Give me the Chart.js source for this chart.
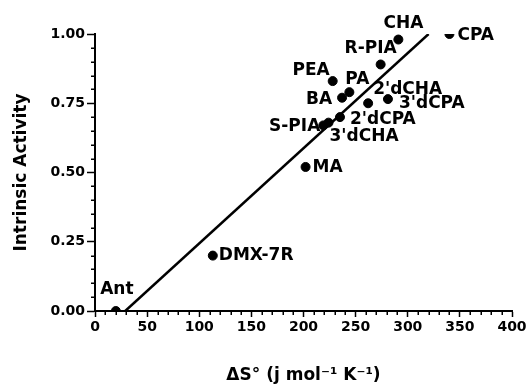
<!DOCTYPE html>
<html>
<head>
<meta charset="utf-8">
<script src="https://cdn.jsdelivr.net/npm/chart.js@4.4.1/dist/chart.umd.min.js"></script>
<style>
  html, body { margin: 0; padding: 0; background: #ffffff; }
  #c { display: block; }
</style>
</head>
<body>
<canvas id="c" width="530" height="391"></canvas>
<script>
// ---- data ----
const compoundNames = ["Ant", "DMX-7R", "MA", "S-PIA", "3'dCHA", "2'dCPA", "BA", "PA", "PEA", "2'dCHA", "3'dCPA", "R-PIA", "CHA", "CPA"];
const entropyValues = [20, 113, 202, 219, 224, 235, 237, 244, 228, 262, 281, 274, 291, 340];
const intrinsicActivity = [0.00, 0.20, 0.52, 0.67, 0.68, 0.70, 0.77, 0.79, 0.83, 0.75, 0.765, 0.89, 0.98, 1.00];
const fitLineX = [29, 320];
const fitLineY = [0.00, 1.00];
const xTickLabels = ["0", "50", "100", "150", "200", "250", "300", "350", "400"];
const yTickLabels = ["0.00", "0.25", "0.50", "0.75", "1.00"];

// ---- label placement (pixel offsets from each point, style only) ----
const labelPlacement = [
  { dx: 1, dy: -21, align: 'center' },   // Ant
  { dx: 6, dy: 0, align: 'left' },       // DMX-7R
  { dx: 7, dy: 1, align: 'left' },       // MA
  { dx: -3, dy: 1, align: 'right' },     // S-PIA
  { dx: 1, dy: 14, align: 'left' },      // 3'dCHA
  { dx: 10, dy: 2, align: 'left' },      // 2'dCPA
  { dx: -10, dy: 2, align: 'right' },    // BA
  { dx: -4, dy: -13, align: 'left' },    // PA
  { dx: -3, dy: -11, align: 'right' },   // PEA
  { dx: 5, dy: -14, align: 'left' },     // 2'dCHA
  { dx: 11, dy: 4, align: 'left' },      // 3'dCPA
  { dx: -10, dy: -16, align: 'center' }, // R-PIA
  { dx: 5, dy: -16, align: 'center' },   // CHA
  { dx: 8, dy: 2, align: 'left' }        // CPA
];

const FONT = "'DejaVu Sans', 'Liberation Sans', Arial, sans-serif";

const scatterPoints = entropyValues.map((x, i) => ({ x: x, y: intrinsicActivity[i] }));
const linePoints = fitLineX.map((x, i) => ({ x: x, y: fitLineY[i] }));

const minorTicksPlugin = {
  id: 'minorTicks',
  afterDraw(chart) {
    const ctx = chart.ctx, xs = chart.scales.x, ys = chart.scales.y;
    ctx.save();
    ctx.strokeStyle = '#000';
    ctx.lineWidth = 1.5;
    for (let v = 10; v < 400; v += 10) {
      if (v % 50 === 0) continue;
      const p = Math.round(xs.getPixelForValue(v)) + 0.25;
      ctx.beginPath(); ctx.moveTo(p, ys.bottom); ctx.lineTo(p, ys.bottom + 4); ctx.stroke();
    }
    for (let k = 1; k < 20; k++) {
      if (k % 5 === 0) continue;
      const p = Math.round(ys.getPixelForValue(k * 0.05)) + 0.25;
      ctx.beginPath(); ctx.moveTo(xs.left, p); ctx.lineTo(xs.left - 4, p); ctx.stroke();
    }
    ctx.restore();
  }
};

const pointLabelsPlugin = {
  id: 'pointLabels',
  afterDatasetsDraw(chart) {
    const ctx = chart.ctx;
    const meta = chart.getDatasetMeta(1);
    ctx.save();
    ctx.fillStyle = '#000';
    ctx.font = "bold 17px " + FONT;
    ctx.textBaseline = 'middle';
    meta.data.forEach((el, i) => {
      const pl = labelPlacement[i];
      ctx.textAlign = pl.align;
      ctx.fillText(compoundNames[i], el.x + pl.dx, el.y + pl.dy);
    });
    ctx.restore();
  }
};

new Chart(document.getElementById('c'), {
  type: 'scatter',
  data: {
    datasets: [
      {
        type: 'line',
        label: 'fit',
        data: linePoints,
        borderColor: '#000',
        borderWidth: 2.5,
        pointRadius: 0,
        fill: false,
        tension: 0
      },
      {
        label: 'compounds',
        data: scatterPoints,
        backgroundColor: '#000',
        borderColor: '#000',
        pointRadius: 4.5,
        pointHoverRadius: 4.5
      }
    ]
  },
  options: {
    responsive: false,
    animation: false,
    events: [],
    layout: { padding: { top: 34, right: 18, left: 0, bottom: 0 } },
    plugins: {
      legend: { display: false },
      tooltip: { enabled: false }
    },
    scales: {
      x: {
        type: 'linear',
        min: 0, max: 400,
        afterFit: (s) => { s.height = 80; },
        border: { display: true, color: '#000', width: 2 },
        grid: { display: true, drawOnChartArea: false, drawTicks: true, tickLength: 6, tickWidth: 1.5, tickColor: '#000', color: '#000' },
        ticks: {
          stepSize: 50,
          padding: 2,
          color: '#000',
          maxRotation: 0,
          font: { family: FONT, size: 14, weight: 'bold' },
          callback: (v) => { const i = xTickLabels.indexOf(String(v)); return i >= 0 ? xTickLabels[i] : ''; }
        },
        title: {
          display: true,
          text: 'ΔS° (j mol⁻¹ K⁻¹)',
          color: '#000',
          font: { family: FONT, size: 17, weight: 'bold' },
          padding: { top: 0, bottom: 5 }
        }
      },
      y: {
        type: 'linear',
        min: 0, max: 1,
        afterFit: (s) => { s.width = 95; },
        border: { display: true, color: '#000', width: 2 },
        grid: { display: true, drawOnChartArea: false, drawTicks: true, tickLength: 8, tickWidth: 1.5, tickColor: '#000', color: '#000' },
        ticks: {
          stepSize: 0.25,
          padding: 2,
          color: '#000',
          font: { family: FONT, size: 14, weight: 'bold' },
          callback: (v) => yTickLabels[Math.round(v / 0.25)]
        },
        title: {
          display: true,
          text: 'Intrinsic Activity',
          color: '#000',
          font: { family: FONT, size: 17, weight: 'bold' },
          padding: { top: 11, bottom: 0 }
        }
      }
    }
  },
  plugins: [minorTicksPlugin, pointLabelsPlugin]
});
</script>
</body>
</html>
